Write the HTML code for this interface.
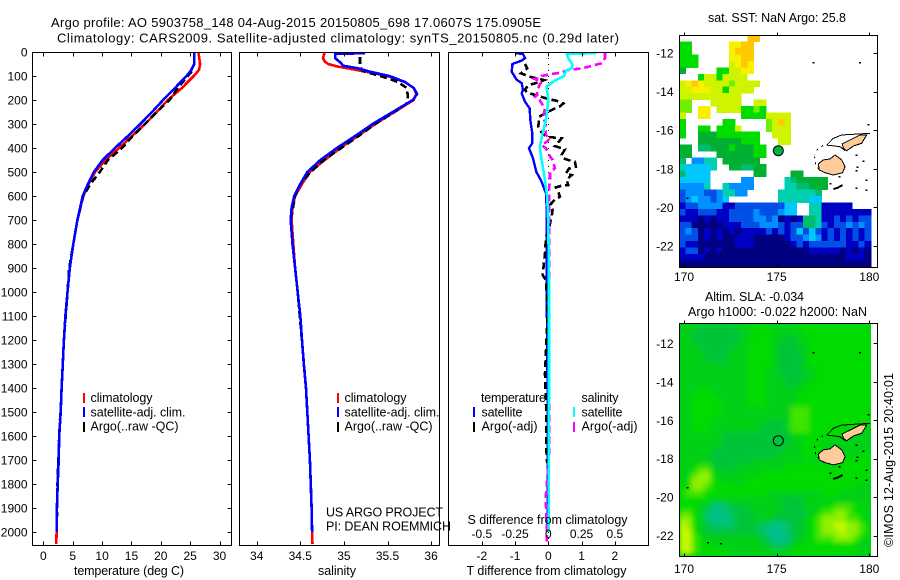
<!DOCTYPE html>
<html lang="en">
<head>
<meta charset="utf-8">
<title>Argo profile 5903758_148</title>
<style>
html,body{margin:0;padding:0;background:#fff;}
svg{display:block;}
text{font-family:"Liberation Sans",sans-serif;font-size:12.5px;fill:#000;}
text.end,text.mid{font-size:12px;}
.end{text-anchor:end;}
.mid{text-anchor:middle;}
text.big{font-size:13px;}
</style>
</head>
<body>
<svg id="root" xmlns="http://www.w3.org/2000/svg" width="900" height="580" viewBox="0 0 900 580">
<defs>
<clipPath id="clipT"><rect x="32" y="52" width="199.5" height="493.5"/></clipPath>
<clipPath id="clipS"><rect x="239.5" y="52" width="200" height="493.5"/></clipPath>
<clipPath id="clipD"><rect x="448" y="52" width="200.5" height="493.5"/></clipPath>
<clipPath id="clipM1"><rect x="679.5" y="35.5" width="198" height="232"/></clipPath>
<clipPath id="clipM2"><rect x="679.5" y="323.5" width="198" height="233"/></clipPath>
<clipPath id="clipM2Data"><rect x="679.5" y="323.5" width="191.3" height="233"/></clipPath>
<filter id="slaSmooth" filterUnits="userSpaceOnUse" x="660" y="300" width="240" height="280"><feGaussianBlur stdDeviation="2.6"/></filter>
</defs>
<g>
<text class="big" x="51" y="27" textLength="490" lengthAdjust="spacing">Argo profile: AO 5903758_148 04-Aug-2015 20150805_698 17.0607S 175.0905E</text>
<text class="big" x="57" y="42.5" textLength="562" lengthAdjust="spacing">Climatology: CARS2009. Satellite-adjusted climatology: synTS_20150805.nc (0.29d later)</text>
</g>
<g id="gT"></g>
<g id="gS"></g>
<g id="gD"></g>
<g id="gM1"></g>
<g id="gM2"></g>

<text x="74" y="575" textLength="110">temperature (deg C)</text>
<text x="318" y="575" textLength="38">salinity</text>
<text x="466.5" y="575" textLength="160">T difference from climatology</text>
<text x="467.5" y="524" textLength="160">S difference from climatology</text>

<g shape-rendering="crispEdges">
<rect x="83" y="393" width="2" height="10" fill="#ff0000"/>
<rect x="83" y="407" width="2" height="10" fill="#0000ff"/>
<rect x="83" y="422" width="2" height="10" fill="#000"/>
</g>
<text x="90.5" y="402" textLength="62">climatology</text>
<text x="90.5" y="416.5" textLength="95">satellite-adj. clim.</text>
<text x="90.5" y="430.5" textLength="88">Argo(..raw -QC)</text>

<g shape-rendering="crispEdges">
<rect x="337" y="393" width="2" height="10" fill="#ff0000"/>
<rect x="337" y="407" width="2" height="10" fill="#0000ff"/>
<rect x="337" y="422" width="2" height="10" fill="#000"/>
</g>
<text x="344.5" y="402" textLength="62">climatology</text>
<text x="344.5" y="416.5" textLength="95">satellite-adj. clim.</text>
<text x="344.5" y="430.5" textLength="88">Argo(..raw -QC)</text>

<g shape-rendering="crispEdges">
<rect x="473" y="407" width="2" height="10" fill="#0000ff"/>
<rect x="473" y="422" width="2" height="10" fill="#000"/>
<rect x="573" y="407" width="2" height="10" fill="#00ffff"/>
<rect x="573" y="422" width="2" height="10" fill="#ff00ff"/>
</g>
<text x="481" y="402" textLength="65">temperature</text>
<text x="481.5" y="416.5" textLength="41">satellite</text>
<text x="481.5" y="430.5" textLength="56">Argo(-adj)</text>
<text x="581.5" y="402" textLength="37">salinity</text>
<text x="581.5" y="416.5" textLength="41">satellite</text>
<text x="581.5" y="430.5" textLength="56">Argo(-adj)</text>

<text x="326" y="516.5" textLength="117">US ARGO PROJECT</text>
<text x="326" y="530.5" textLength="125">PI: DEAN ROEMMICH</text>

<text x="708" y="22" textLength="138">sat. SST: NaN Argo: 25.8</text>
<text x="705" y="301" textLength="99">Altim. SLA: -0.034</text>
<text x="688" y="316" textLength="179">Argo h1000: -0.022 h2000: NaN</text>
<text transform="translate(893,547) rotate(-90)" textLength="174">©IMOS 12-Aug-2015 20:40:01</text>
</svg>
<script>
// ---------- profile data ----------
var tempDepths = [0,50,75,100,150,200,250,300,350,400,450,500,550,600,700,800,900,1000,1100,1200,1300,1400,1500,1600,1700,1800,1900,2000,2050];
var tempClimatology = [26.4,26.7,26.5,25.6,23.6,21.2,19.3,17.3,15.1,12.9,10.6,8.8,7.7,6.8,5.8,5.1,4.5,4.1,3.75,3.5,3.3,3.1,2.95,2.7,2.6,2.43,2.3,2.25,2.2];
var tempSatellite = [25.7,25.7,25.2,24.4,22.4,20.4,18.5,16.5,14.4,12.2,10.1,8.6,7.6,6.7,5.8,5.1,4.5,4.1,3.75,3.5,3.3,3.1,2.95,2.7,2.6,2.43,2.3,2.25];
var tempArgoDepths = [80,100,150,200,250,300,350,400,450,500,550,600,700,800,900,1000,1200,1400,1600,1800,1950];
var tempArgo = [25.3,24.6,22.9,21.5,19.3,17.3,15.2,13.4,11.0,9.6,8.0,6.8,5.8,5.1,4.4,4.1,3.5,3.1,2.7,2.4,2.3];

var salDepths = [0,25,40,50,60,75,100,125,150,175,200,250,300,350,400,450,500,550,600,650,700,800,900,1000,1100,1200,1300,1400,1500,1600,1700,1800,1900,2000,2050];
var salClimatology = [34.78,34.76,34.78,34.82,34.92,35.15,35.5,35.7,35.8,35.83,35.8,35.58,35.36,35.16,34.96,34.78,34.61,34.52,34.44,34.41,34.4,34.42,34.44,34.47,34.5,34.52,34.54,34.565,34.58,34.595,34.61,34.62,34.63,34.635,34.64];
var salSatDepths = [5,8,26,47,57,68,82,101,125,150,175,200,250,300,350,400,450,500,550,600,650,700,800,900,1000,1100,1200,1300,1400,1500,1600,1700,1800,1900,2000];
var salSatellite = [35.24,34.9,34.9,34.97,34.99,35.16,35.3,35.53,35.7,35.8,35.84,35.79,35.56,35.33,35.13,34.92,34.73,34.58,34.5,34.43,34.4,34.39,34.41,34.44,34.47,34.5,34.52,34.54,34.565,34.58,34.595,34.61,34.62,34.63,34.635];
var salArgoDepths = [20,60,80,100,125,150,175,200,215,250,300,350,400,450,500,550,600,700,800,1000,1400,1700,1900,2000];
var salArgo = [35.185,35.185,35.22,35.42,35.62,35.72,35.73,35.73,35.72,35.58,35.36,35.17,34.97,34.77,34.62,34.5,34.44,34.39,34.41,34.47,34.565,34.61,34.63,34.635];

var dTSatDepths = [5,8,26,36,50,82,114,130,158,172,207,235,283,339,380,401,443,499,540,589,644,728,950,1400,2000];
var dTSatellite = [-1.0,-0.76,-0.70,-0.80,-1.08,-1.10,-0.96,-0.80,-0.76,-0.80,-0.70,-0.56,-0.54,-0.48,-0.48,-0.58,-0.46,-0.36,-0.20,-0.07,-0.05,-0.05,-0.05,-0.02,-0.02];
var dTArgoDepths = [50,68,89,103,117,131,138,158,169,197,203,214,225,235,249,269,311,336,353,357,360,392,406,429,443,450,457,478,485,506,513,533,554,557,564,582,603,614,637,658,686,714,742,769,839,929,950,1100,1340,1500,1700,1720,2000];
var dTArgo = [-0.7,-0.632,-0.82,-0.552,-0.13,-0.4,-0.6,-0.7,-0.632,0.03,0.25,0.45,0.37,0.2,0,-0.27,-0.3,-0.2,-0.05,0.2,0.4,0.2,0.5,0.4,0.45,0.6,0.8,0.83,0.63,0.53,0.7,0.55,0.6,0.4,0.23,0.3,0.35,0.2,0.05,0.13,0.1,0.05,0.03,-0.07,-0.1,-0.17,-0.07,-0.02,-0.1,-0.06,-0.05,0,0];
var dSSatDepths = [5,8,26,54,68,78,100,119,144,200,283,339,394,450,533,603,714,950,1400,2000];
var dSSatellite = [0.363,0.138,0.15,0.183,0.175,0.133,0.118,0.05,-0.0125,0,-0.018,-0.043,-0.063,-0.05,-0.025,-0.008,0,0.005,0.005,0.002];
var dSArgoDepths = [5,26,47,58,64,71,72,78,86,89,93,100,110,113,124,138,165,179,186,197,214,235,269,304,346,360,374,388,401,436,450,485,499,533,561,582,825,1457,1672,1846,1880,1950,2040];
var dSArgo = [0.426,0.426,0.40,0.326,0.283,0.218,0.175,0.133,0.1,0.055,0.0125,-0.05,-0.063,-0.1,-0.05,-0.068,-0.083,-0.083,-0.1,-0.068,-0.05,-0.025,-0.038,-0.018,-0.018,0.0125,-0.0125,-0.05,-0.018,0.0125,0.033,0.05,0.0125,0.0125,0.0075,0.005,0.0075,0.0075,0.0075,-0.018,-0.018,-0.0125,-0.0125];

// ---------- tick labels ----------
var depthTicks = [0,100,200,300,400,500,600,700,800,900,1000,1100,1200,1300,1400,1500,1600,1700,1800,1900,2000];
var tempTicks = [0,5,10,15,20,25,30];
var salTicks = [34,34.5,35,35.5,36];
var dTTicks = [-2,-1,0,1,2];
var dSTicks = [-0.5,-0.25,0,0.25,0.5];
var lonTicks = [170,175,180];
var latTicks = [-12,-14,-16,-18,-20,-22];

// ---------- profile location and coast (lon, lat) ----------
var argoLon = 175.09;
var argoLat = -17.06;
var vitiLevu = [[177.25,-17.75],[177.52,-17.54],[177.88,-17.49],[178.15,-17.28],[178.51,-17.54],[178.69,-17.89],[178.56,-18.2],[178.06,-18.32],[177.61,-18.2],[177.3,-18.06]];
var vanuaLevu = [[178.54,-16.71],[178.96,-16.51],[179.5,-16.25],[179.86,-16.25],[179.59,-16.68],[179.14,-16.82],[178.78,-17.06],[178.6,-16.94]];
var reefNorth = [[177.7,-16.77],[178.06,-16.42],[178.5,-16.25],[179.32,-16.2],[180.03,-16.16]];
var reefLoop = [[177.7,-16.77],[178.4,-16.85],[178.7,-17.05]];
var reefWest = [[177.5,-16.8],[177.2,-17.0],[177.05,-17.25]];
var reefSouth = [[177.05,-17.35],[177.1,-17.75],[177.3,-18.05]];
var kadavu = [[178.06,-19.05],[178.3,-18.98],[178.56,-18.84]];
var islets = [[177,-12.48],[179.5,-12.48],[179.3,-17.28],[179.3,-19.0],[179.86,-18.58],[179.85,-19.1],[178.4,-18.4],[177.9,-18.75],[179.95,-15.7],[179.7,-17.6],[179.35,-17.9],[179.3,-18.1],[171.3,-22.35],[172,-22.4],[170.2,-19.5]];

// ---------- SST map: one char per 1/3 degree cell, level 0-c, '.' = no data ----------
var sstRows = [
"...........cc..................",
"88......bbcc...................",
"88......bccc...................",
"888.....bbcc...................",
"888.....abcb...................",
"7.....88aabb...................",
"...8aa8aaaa....................",
"abcbaaaa9aaaa..................",
"aabbbaa8aaaa...................",
"aaaaaaaaaa.....................",
"99...aaaaa..aa.................",
"99.bb.aaaa8898.................",
"a..bb.....8888aaaa.............",
"8......88.....9aca.............",
"8..88.888a....9aaa.............",
"8..7778888888..aaa.............",
"...7777777888...aa.............",
"77.66777877788.................",
"77....77777788.................",
"6.3355.777777..................",
"544445..776677.................",
"64444.......77....77...........",
"44444.....33.....5677777.......",
"33335..53333.....5566777.......",
"23332235533.....5555556........",
"23433234........5555544........",
"1223333112222222244..5511111...",
"2112221122223222344..5511111111",
"1110101122223323010166511212122",
"2200000111222333212266521223232",
"2320101010111121212424212121212",
"2220101001110000012234312121212",
"2110000001110000001212222221121",
"1220101000000000000001111101010",
"1111000000000000000000000001110",
"0000000000000000000000000000000"
];
// ---------- SLA map: one char per 1/3 degree cell, level 0-7 ----------
var slaRows = [
"3332222223344433333444444444444",
"3322222222334443333344444444444",
"3322222222344443322334444444444",
"3332222223344443222334444444444",
"3333222233344443222234444444444",
"3333222233344443222234444444444",
"3333332333344443222234444444444",
"3333333333344433222233444444444",
"3333333333344433322233444444444",
"3333333333344433322334444444444",
"3334433333344433333344444444444",
"3344443333344433333444444444444",
"3344444333344433333444444444444",
"3344444333333333335554444444444",
"3344443333333333335554444444444",
"3344433333333322235554444444444",
"3344433333333222235554444444433",
"3333333222222222223344444443333",
"3333333222222222223344433333333",
"3333332222222222233344433333333",
"3333322222222222333344433333344",
"3333322222223333333343333344444",
"3345532223333333344444444444444",
"3356633333333444444444444444444",
"3466643333344444444444444444444",
"4466544443444444444444444444333",
"4555444444444433333333344433333",
"4444433333333333222233333333333",
"4443210122233333322233344555443",
"5543100112223333222223455665443",
"6643100012223332222234566665543",
"7643211112222110012234566776654",
"7743222222222100012234566676654",
"7754333333333210002334555666543",
"7754433333333321123344444444433",
"7754444433333333334444444444433"
];

// ---------- styles ----------
var sstColors = ["#000080","#0000c4","#0050e8","#0090ff","#00c8ff","#00d0b0","#00bc70","#00b030","#00dc00","#70f000","#d0f400","#f8f000","#ffc800"];
var slaColors = ["#00c08c","#00c468","#00c438","#00d018","#00dc00","#40e400","#90f000","#c8f800"];

// ---------- axis functions ----------
function yDepth(d){return 52+0.24*d;}
function xTemp(t){return 43.4+5.87*t;}
function xSal(s){return 256.7+87.2*(s-34);}
function xDT(t){return 548.3+33.25*t;}
function xDS(s){return 548.3+133*s;}
function xLon(l){return 684+18.53*(l-170);}
function yLat1(l){return 53+19.3*(-12-l);}
function yLat2(l){return 343.3+19.24*(-12-l);}

var NS='http://www.w3.org/2000/svg';
function make(tag,parent,attrs){
  var e=document.createElementNS(NS,tag);
  for(var k in attrs){e.setAttribute(k,attrs[k]);}
  parent.appendChild(e);
  return e;
}
function drawProfile(parent,xFn,depths,vals,color,width,dash,clip){
  var pts=[];
  for(var i=0;i<vals.length;i++){pts.push(xFn(vals[i]).toFixed(1)+','+yDepth(depths[i]).toFixed(1));}
  var a={points:pts.join(' '),fill:'none',stroke:color,'stroke-width':width,'clip-path':'url(#'+clip+')','shape-rendering':'crispEdges'};
  if(dash){a['stroke-dasharray']=dash;}
  return make('polyline',parent,a);
}
function drawFrame(parent,x,y,w,h){
  var r=make('rect',parent,{x:x,y:y,width:w,height:h,fill:'none',stroke:'#000','stroke-width':1,'shape-rendering':'crispEdges'});
  
  
}
function drawTick(parent,x1,y1,x2,y2){
  var t=make('line',parent,{x1:x1,y1:y1,x2:x2,y2:y2,stroke:'#000','stroke-width':1,'shape-rendering':'crispEdges'});
  
  
}
function drawLabel(parent,x,y,str,cls){
  var t=make('text',parent,{x:x,y:y,'class':cls});
  t.textContent=str;
  
  
}
function xTicks(parent,ticks,xFn,top,bottom,labelY){
  ticks.forEach(function(v){
    var x=Math.round(xFn(v))+0.5;
    drawTick(parent,x,top,x,top+4);
    drawTick(parent,x,bottom,x,bottom-4);
    drawLabel(parent,xFn(v),labelY,String(v),'mid');
  });
}

var gT=document.getElementById('gT'),gS=document.getElementById('gS'),gD=document.getElementById('gD');
var gM1=document.getElementById('gM1'),gM2=document.getElementById('gM2');
var s;

// temperature panel
s=drawProfile(gT,xTemp,tempDepths,tempClimatology,'#ff0000',2.6,null,'clipT');


s=drawProfile(gT,xTemp,tempArgoDepths,tempArgo,'#000',2.6,'7 4','clipT');


s=drawProfile(gT,xTemp,tempDepths,tempSatellite,'#0000ff',2.6,null,'clipT');


drawFrame(gT,32.5,52.5,199,493);
xTicks(gT,tempTicks,xTemp,52.5,545.5,560);
depthTicks.forEach(function(d){
  var y=Math.round(yDepth(d))+0.5;
  drawTick(gT,32.5,y,36.5,y);
  drawTick(gT,231.5,y,227.5,y);
  drawLabel(gT,27.5,yDepth(d)+4.5,String(d),'end');
});

// salinity panel
s=drawProfile(gS,xSal,salDepths,salClimatology,'#ff0000',2.6,null,'clipS');


s=drawProfile(gS,xSal,salArgoDepths,salArgo,'#000',2.6,'7 4','clipS');


s=drawProfile(gS,xSal,salSatDepths,salSatellite,'#0000ff',2.6,null,'clipS');


drawFrame(gS,239.5,52.5,200,493);
xTicks(gS,salTicks,xSal,52.5,545.5,560);

// difference panel
var zero=make('line',gD,{x1:548.5,y1:52,x2:548.5,y2:545,stroke:'#000','stroke-width':1,'stroke-dasharray':'1 5','shape-rendering':'crispEdges'});


s=drawProfile(gD,xDT,dTSatDepths,dTSatellite,'#0000ff',2.4,null,'clipD');


s=drawProfile(gD,xDT,dTArgoDepths,dTArgo,'#000',2.6,'7 4','clipD');


s=drawProfile(gD,xDS,dSArgoDepths,dSArgo,'#ff00ff',2.6,'7 4','clipD');


s=drawProfile(gD,xDS,dSSatDepths,dSSatellite,'#00ffff',2.6,null,'clipD');


drawFrame(gD,448.5,52.5,200,493);
xTicks(gD,dTTicks,xDT,52.5,545.5,560);
dSTicks.forEach(function(v){
  drawLabel(gD,xDS(v),538,String(v),'mid');
});

// maps
function drawGrid(parent,rows,colors,yFn,latStart,latStep,clip,smooth){
  var g=make('g',parent,{'clip-path':'url(#'+clip+')'});
  
  
  var inner=make('g',g,{'shape-rendering':'crispEdges'});
  if(smooth){inner.setAttribute('filter','url(#'+smooth+')');}
  var lonStart=169.75,lonStep=1/3;
  rows.forEach(function(row,r){
    for(var c=0;c<row.length;c++){
      var ch=row.charAt(c);
      if(ch==='.'){continue;}
      var x0=xLon(lonStart+c*lonStep),x1=xLon(lonStart+(c+1)*lonStep);
      var y0=yFn(latStart+r*latStep),y1=yFn(latStart+(r+1)*latStep);
      var cell=make('rect',inner,{x:x0.toFixed(1),y:y0.toFixed(1),width:(x1-x0+0.4).toFixed(1),height:(y1-y0+0.4).toFixed(1),fill:colors[parseInt(ch,13)]});
      
      
    }
  });
}
function geoPts(list,yFn){
  return list.map(function(p){return xLon(p[0]).toFixed(1)+','+yFn(p[1]).toFixed(1);}).join(' ');
}
function drawCoast(parent,yFn,clip){
  var g=make('g',parent,{'clip-path':'url(#'+clip+')','shape-rendering':'crispEdges'});
  
  
  [vitiLevu,vanuaLevu].forEach(function(poly){
    var p=make('polygon',g,{points:geoPts(poly,yFn),fill:'#ffcc99',stroke:'#000','stroke-width':1});
    
    
  });
  [reefNorth,reefLoop].forEach(function(line){
    var l=make('polyline',g,{points:geoPts(line,yFn),fill:'none',stroke:'#000','stroke-width':1});
    
    
  });
  [reefWest,reefSouth].forEach(function(line){
    var l=make('polyline',g,{points:geoPts(line,yFn),fill:'none',stroke:'#000','stroke-width':1,'stroke-dasharray':'2 4'});
    
    
  });
  var k=make('polyline',g,{points:geoPts(kadavu,yFn),fill:'none',stroke:'#000','stroke-width':2});
  
  
  islets.forEach(function(p){
    var d=make('rect',g,{x:(xLon(p[0])-1).toFixed(1),y:(yFn(p[1])-0.5).toFixed(1),width:2,height:1.5,fill:'#000'});
    
    
  });
}
function drawMapAxes(parent,yFn,frameY,frameH,labelY){
  drawFrame(parent,679.5,frameY,198,frameH);
  lonTicks.forEach(function(v){
    var x=Math.round(xLon(v))+0.5;
    drawTick(parent,x,frameY,x,frameY-3);
    drawTick(parent,x,frameY+frameH,x,frameY+frameH-3);
    drawLabel(parent,xLon(v),labelY,String(v),'mid');
  });
  latTicks.forEach(function(v){
    var y=Math.round(yFn(v))+0.5;
    drawTick(parent,877.5,y,873.5,y);
    drawLabel(parent,673.5,yFn(v)+4.5,String(v),'end');
  });
}
drawGrid(gM1,sstRows,sstColors,yLat1,-11.08,-1/3,'clipM1',null);
drawCoast(gM1,yLat1,'clipM1');
var ring=make('circle',gM1,{cx:xLon(argoLon).toFixed(1),cy:yLat1(argoLat).toFixed(1),r:5,fill:'#00b040',stroke:'#000','stroke-width':1});


drawMapAxes(gM1,yLat1,35.5,232,281);

var slaBase=make('rect',gM2,{x:679.5,y:323.5,width:191.3,height:233,fill:slaColors[3],'shape-rendering':'crispEdges'});


drawGrid(gM2,slaRows,slaColors,yLat2,-10.96,-1/3,'clipM2Data','slaSmooth');
drawCoast(gM2,yLat2,'clipM2');
var ring2=make('circle',gM2,{cx:xLon(argoLon).toFixed(1),cy:yLat2(argoLat).toFixed(1),r:5,fill:'none',stroke:'#000','stroke-width':1});


drawMapAxes(gM2,yLat2,323.5,233,573);
</script>
</body>
</html>
